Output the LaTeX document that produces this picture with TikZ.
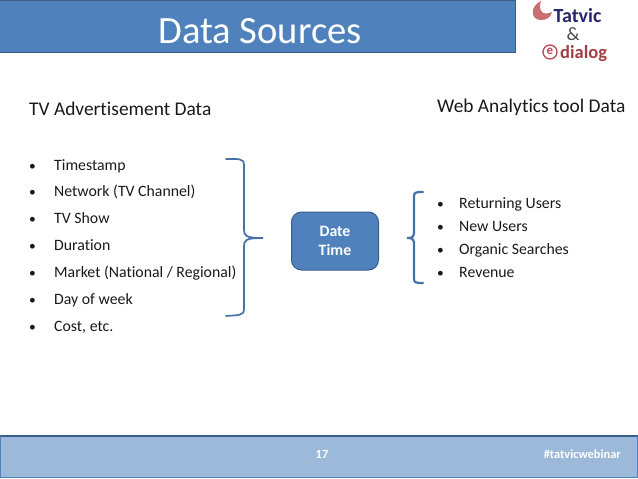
\documentclass[tikz,border=0pt]{standalone}
\usepackage{fontspec}
\setmainfont[Ligatures=NoCommon]{Carlito}
\usetikzlibrary{calc}
\definecolor{figB}{RGB}{79,129,189}
\definecolor{figD}{RGB}{56,93,138}
\definecolor{figL}{RGB}{157,185,218}
\definecolor{figN}{RGB}{37,38,110}
\definecolor{figR}{RGB}{190,72,80}
\tikzset{
  itemtxt/.style={anchor=base west, inner sep=0pt, font=\fontsize{15.8}{17}\selectfont, text=black!90},
  dottxt/.style={anchor=base west, inner sep=0pt, font=\fontsize{13.5}{17}\selectfont, text=black!90},
  headtxt/.style={anchor=base west, inner sep=0pt, font=\fontsize{19.4}{21}\selectfont, text=black!90},
  brace/.style={figB!88!black, line width=1.7pt, line cap=round}
}
\begin{document}
\begin{tikzpicture}[x=1pt, y=-1pt]
\useasboundingbox (0,0) rectangle (638,479);
% title bar
\fill[figB] (0,0) rectangle (516,53);
\draw[figD, line width=1pt] (0,0.5) -- (515.5,0.5) -- (515.5,52.5) -- (0,52.5);
\node[text=white, font=\fontsize{38.6}{40}\selectfont, inner sep=0pt] (title) at (260,31) {Data Sources};
% logo
\fill[figR!80] (541,1) .. controls (530,6) and (530,20) .. (541,20) .. controls (547,20) and (551,17) .. (552,12) .. controls (548,14) and (544,14) .. (542,12) .. controls (539,9) and (540,4) .. (541,1) -- cycle;
\node[figN, font=\bfseries\fontsize{20}{22}\selectfont, inner sep=0pt, anchor=base west] (tatvic) at (553.5,22) {Tatvic};
\node[black!70, font=\fontsize{19}{20}\selectfont, inner sep=0pt, anchor=base] (amp) at (573,40) {\&};
\draw[figR, line width=1.3pt] (550,52) circle (7);
\node[figR, font=\bfseries\fontsize{13}{14}\selectfont, inner sep=0pt] (ering) at (550,51.5) {e};
\node[figR!85!black, font=\bfseries\fontsize{18.5}{20}\selectfont, anchor=base west, inner sep=0pt] (dialog) at (560,58) {dialog};
% left column
\node[headtxt] (tvhead) at (29,115) {TV Advertisement Data};
\foreach \yy/\txt/\nm in {170/Timestamp/a, 196/Network (TV Channel)/b, 223/TV Show/c, 250/Duration/d, 277/{Market (National / Regional)}/e, 304/Day of week/f, 331/{Cost, etc.}/g}{
  \node[dottxt] (dot\nm) at (29,\yy) {•};
  \node[itemtxt] (left\nm) at (54,\yy) {\txt};
}
% left brace
\draw[brace] (226,159) .. controls (238,159) and (244,158) .. (244,165) -- (244,230) .. controls (244,236) and (246,238) .. (263,238) .. controls (246,238) and (244,240) .. (244,246) -- (244,309) .. controls (244,316) and (238,315) .. (226,316);
% centre box
\node[draw=figD, fill=figB, line width=1pt, rounded corners=10pt, minimum width=87pt, minimum height=58pt, inner sep=0pt, align=center, text=white, font=\bfseries\fontsize{15.8}{19}\selectfont] (datetime) at (335,241) {Date\\Time};
% right brace
\draw[brace, line width=2.2pt] (423,192) .. controls (417,192) and (414,192) .. (414,196) -- (414,234) .. controls (414,237) and (412,238) .. (407,238) .. controls (412,238) and (414,239) .. (414,242) -- (414,279) .. controls (414,283) and (417,283) .. (423,283);
% right column
\node[headtxt] (webhead) at (437,112) {Web Analytics tool Data};
\foreach \yy/\txt/\nm in {208/Returning Users/a, 231/New Users/b, 254/Organic Searches/c, 277/Revenue/d}{
  \node[dottxt] (rdot\nm) at (437,\yy) {•};
  \node[itemtxt] (right\nm) at (459,\yy) {\txt};
}
% footer bar
\fill[figL] (0,435.5) rectangle (638,478);
\draw[figD, line width=1.2pt] (0,436) -- (638,436);
\draw[figB, line width=0.8pt] (0.5,436) -- (0.5,477.5) -- (637.5,477.5) -- (637.5,436);
\node[text=white, font=\bfseries\fontsize{12.4}{14}\selectfont, inner sep=0pt] (pagenum) at (322,454) {17};
\node[text=white, font=\bfseries\fontsize{12.4}{14}\selectfont, inner sep=0pt, anchor=east] (hashtag) at (621,454) {\#tatvicwebinar};
\end{tikzpicture}
\end{document}
